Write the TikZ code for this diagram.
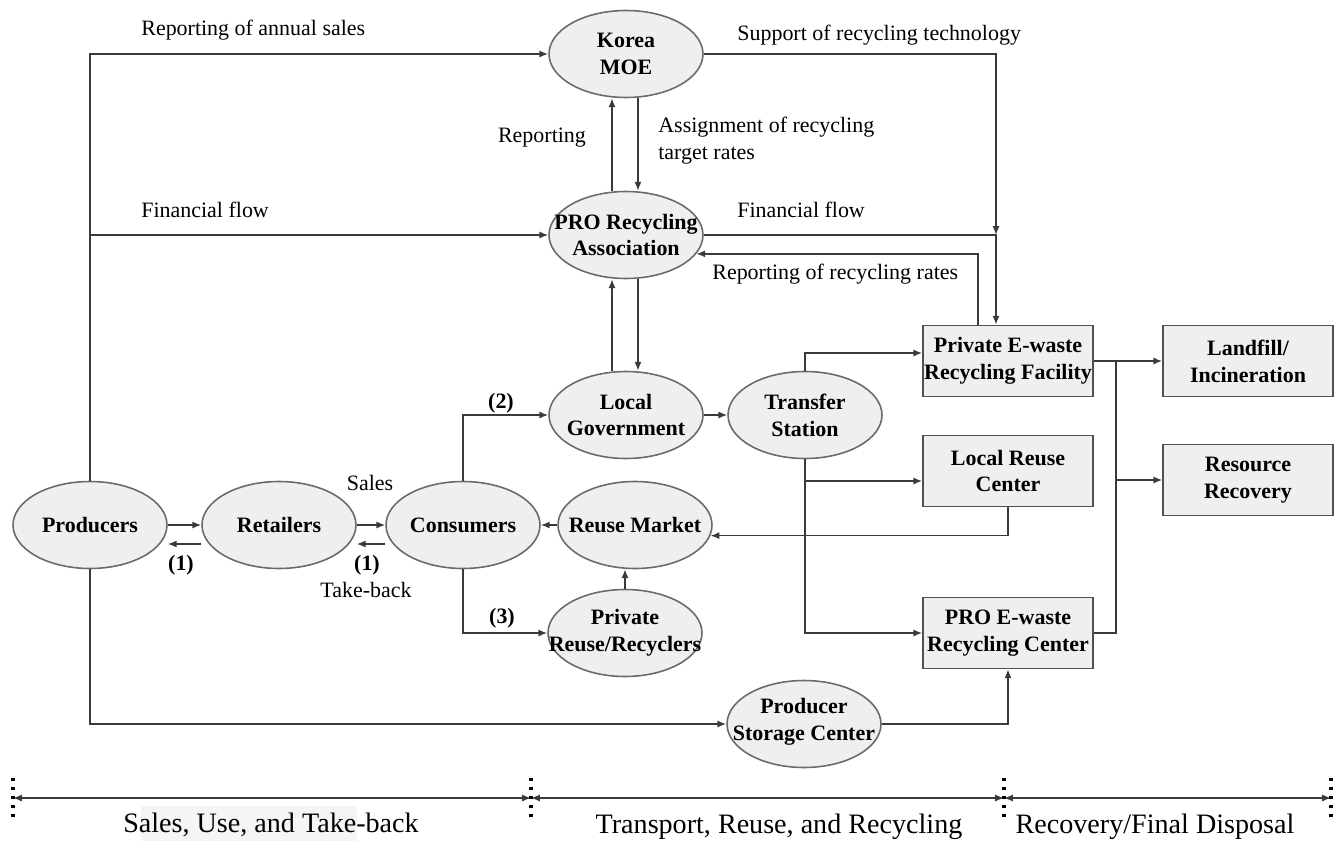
\documentclass[tikz,border=0pt]{standalone}
\usepackage{fontspec}
\setmainfont{Liberation Serif}
\usetikzlibrary{shapes.geometric,arrows.meta,calc}
\definecolor{ellfill}{HTML}{EFEFEF}
\definecolor{ellline}{HTML}{6A6A6A}
\definecolor{boxline}{HTML}{505050}
\definecolor{lncol}{HTML}{3A3A3A}
\begin{document}
\begin{tikzpicture}[x=0.02cm,y=-0.02cm,
  ell/.style={ellipse,draw=ellline,fill=ellfill,line width=0.9pt,minimum width=3.08cm,minimum height=1.74cm,inner sep=0pt},
  etxt/.style={align=center,font=\bfseries\fontsize{12.5}{15.3}\selectfont,inner sep=0pt},
  box/.style={rectangle,draw=boxline,fill=ellfill,line width=0.9pt,minimum width=3.4cm,minimum height=1.42cm,inner sep=0pt,align=center,font=\bfseries\fontsize{12.5}{15.3}\selectfont},
  lab/.style={font=\fontsize{12.5}{15.3}\selectfont,inner sep=0pt,align=left},
  blab/.style={font=\bfseries\fontsize{12.5}{15}\selectfont,inner sep=0pt},
  arr/.style={draw=lncol,line width=0.85pt,-{Latex[length=5pt,width=4pt]}},
  ln/.style={draw=lncol,line width=0.85pt},
  tick/.style={draw=black,line width=1.8pt,dash pattern=on 1.8pt off 3.3pt},
  phase/.style={font=\fontsize{16}{19}\selectfont,inner sep=0pt},
  tl/.style={draw=lncol,line width=0.85pt,{Latex[length=5pt,width=4pt]}-{Latex[length=5pt,width=4pt]}}
]
\useasboundingbox (0,0) rectangle (1341,841);

% ellipses
\node[ell] (Korea) at (626,54) {};
\node[etxt] (KoreaT) at (Korea) {Korea\\MOE};
\node[ell] (PRA) at (626,235) {};
\node[etxt] (PRAT) at (PRA) {PRO Recycling\\Association};
\node[ell] (LG) at (626,415) {};
\node[etxt] (LGT) at (LG) {Local\\Government};
\node[ell] (TS) at (805,415) {};
\node[etxt] (TST) at (TS) {Transfer\\Station};
\node[ell] (Prod) at (90,525) {};
\node[etxt] (ProdT) at (Prod) {Producers};
\node[ell] (Ret) at (279,525) {};
\node[etxt] (RetT) at (Ret) {Retailers};
\node[ell] (Cons) at (463,525) {};
\node[etxt] (ConsT) at (Cons) {Consumers};
\node[ell] (RM) at (635,525) {};
\node[etxt] (RMT) at (RM) {Reuse Market};
\node[ell] (PRR) at (625,633) {};
\node[etxt] (PRRT) at (PRR) {Private\\Reuse/Recyclers};
\node[ell] (PSC) at (804,724) {};
\node[etxt] (PSCT) at ([yshift=0.04cm]PSC.center) {Producer\\Storage Center};

% boxes
\node[box] (PF) at (1008,361) {Private E-waste\\Recycling Facility};
\node[box] (LF) at (1248,361) {Landfill/\\Incineration};
\node[box] (LR) at (1008,471) {Local Reuse\\Center};
\node[box] (RR) at (1248,480) {Resource\\Recovery};
\node[box] (PEW) at (1008,633) {PRO E-waste\\Recycling Center};

% connectors
\draw[arr] (Prod.north) |- (Korea.west);
\draw[arr] (Prod.north |- PRA.west) -- (PRA.west);
\draw[arr] (Prod.south) |- (PSC.west);
\draw[arr] ([xshift=-0.28cm]PRA.north) -- ([xshift=-0.28cm]Korea.south);
\draw[arr] ([xshift=0.24cm]Korea.south) -- ([xshift=0.24cm]PRA.north);
\draw[arr] ([xshift=-0.28cm]LG.north) -- ([xshift=-0.28cm]PRA.south);
\draw[arr] ([xshift=0.24cm]PRA.south) -- ([xshift=0.24cm]LG.north);
\coordinate (fj) at (996,235);
\draw[arr] (Korea.east) -| (fj);
\draw[arr] (PRA.east) -| ([xshift=-0.24cm]PF.north);
\draw[arr] ([xshift=-0.6cm]PF.north) |- (PRA.-15);
\draw[arr] (Cons.north) |- (LG.west);
\draw[arr] (Cons.south) |- (PRR.west);
\draw[arr] (LG.east) -- (TS.west);
\draw[arr] (TS.north) |- ([yshift=0.16cm]PF.west);
\draw[arr] (TS.south) |- (PEW.west);
\coordinate (LRin) at ([yshift=-0.2cm]LR.west);
\draw[arr] (TS.south |- LRin) -- (LRin);
\draw[arr] (LR.south) |- (RM.-8);
\draw[arr] (PRR.north) -- (PRR.north |- RM.south);
\draw[arr] (Prod.east) -- (Ret.west);
\draw[arr] ([yshift=-0.38cm]Ret.west) -- ([yshift=-0.38cm]Prod.east);
\draw[arr] (Ret.east) -- (Cons.west);
\draw[arr] ([yshift=-0.38cm]Cons.west) -- ([yshift=-0.38cm]Ret.east);
\draw[arr] (RM.west) -- (Cons.east);
\draw[arr] (PF.east) -- (LF.west);
\coordinate (J) at (1116,361);
\draw[ln] (PEW.east) -| (J);
\draw[arr] (J |- RR.west) -- (RR.west);
\draw[arr] (PSC.east) -| (PEW.south);

% labels
\node[lab,anchor=west] (l1) at (141,30) {Reporting of annual sales};
\node[lab,anchor=west] (l2) at (141,210) {Financial flow};
\node[lab,anchor=west] (l3) at (737,35) {Support of recycling technology};
\node[lab] (l4) at (542,138) {Reporting};
\node[lab,anchor=west] (l5) at (658,141) {Assignment of recycling\\target rates};
\node[lab,anchor=west] (l6) at (737,210) {Financial flow};
\node[lab,anchor=west] (l7) at (712,274) {Reporting of recycling rates};
\node[blab] (n2) at (501,403) {(2)};
\node[lab] (sales) at (370,483) {Sales};
\node[blab] (n1a) at (181,565) {(1)};
\node[blab] (n1b) at (367,565) {(1)};
\node[lab] (tb) at (366,590) {Take-back};
\node[blab] (n3) at (502,618) {(3)};

% timeline
\fill[gray!8] (141,806) rectangle (357,841);
\coordinate (t0) at (13,798);
\coordinate (t1) at (531,798);
\coordinate (t2) at (1004,798);
\coordinate (t3) at (1331,798);
\draw[tl] (t0) -- (t1);
\draw[tl] (t1) -- (t2);
\draw[tl] (t2) -- (t3);
\foreach \xx in {13,531,1004,1331} {\draw[tick] (\xx,778) -- (\xx,822);}
\node[phase] (p1) at (271,825) {Sales, Use, and Take-back};
\node[phase] (p2) at (779,827) {Transport, Reuse, and Recycling};
\node[phase] (p3) at (1155,827) {Recovery/Final Disposal};
\end{tikzpicture}
\end{document}
